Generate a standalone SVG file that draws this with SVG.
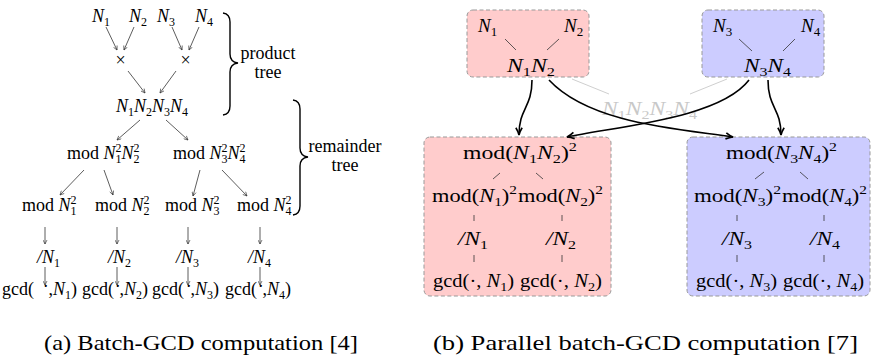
<svg xmlns="http://www.w3.org/2000/svg" width="871" height="360" viewBox="0 0 871 360" font-family="'Times New Roman', serif">
<style>
text{font-family:'Times New Roman',serif;fill:#000}
.L{font-size:18px}
.R{font-size:19px}
.i{font-style:italic}
.s{font-size:12px}
.rs{font-size:13px}
.ln{stroke:#333;stroke-width:0.8;fill:none}
.la{stroke:#333;stroke-width:0.8;fill:none;marker-end:url(#sa)}
.tk{stroke:#000;stroke-width:1.6;fill:none;marker-end:url(#ba)}
.pink{fill:#ffcccc;stroke:#999;stroke-width:1;stroke-dasharray:4 2.5}
.blue{fill:#ccccff;stroke:#999;stroke-width:1;stroke-dasharray:4 2.5}
.gr{stroke:#cfcfcf;stroke-width:1;fill:none}
.ghost{fill:#c8c8c8}
.brace{stroke:#000;stroke-width:1.4;fill:none}
.cap{font-size:21px}
</style>
<defs>
<marker id="sa" viewBox="0 0 10 10" refX="9" refY="5" markerWidth="5" markerHeight="5" markerUnits="userSpaceOnUse" orient="auto"><path d="M1,1 L9,5 L1,9" fill="none" stroke="#333" stroke-width="1.3"/></marker>
<marker id="ba" viewBox="0 0 10 10" refX="9" refY="5" markerWidth="9" markerHeight="9" markerUnits="userSpaceOnUse" orient="auto"><path d="M1,1.5 Q5,4 9,5 Q5,6 1,8.5" fill="none" stroke="#000" stroke-width="1.8"/></marker>
</defs>

<!-- (a) Batch-GCD -->
<g id="connectors-a">
<line class="la" x1="106" y1="27" x2="117" y2="50"/>
<line class="la" x1="134" y1="27" x2="124" y2="50"/>
<line class="la" x1="172" y1="27" x2="182" y2="50"/>
<line class="la" x1="199" y1="27" x2="189" y2="50"/>
<line class="la" x1="128" y1="71" x2="145" y2="93"/>
<line class="la" x1="176" y1="71" x2="160" y2="93"/>
<line class="la" x1="140" y1="120" x2="117" y2="140"/>
<line class="la" x1="166" y1="120" x2="188" y2="140"/>
<line class="la" x1="84" y1="170" x2="60" y2="195"/>
<line class="la" x1="104" y1="170" x2="113" y2="195"/>
<line class="la" x1="200" y1="170" x2="193" y2="196"/>
<line class="la" x1="222" y1="170" x2="247" y2="196"/>
<line class="la" x1="45" y1="227" x2="45" y2="244"/>
<line class="la" x1="117" y1="227" x2="117" y2="244"/>
<line class="la" x1="188" y1="227" x2="188" y2="244"/>
<line class="la" x1="260" y1="227" x2="260" y2="244"/>
<line class="la" x1="45" y1="267" x2="45" y2="285"/>
<line class="la" x1="117" y1="267" x2="117" y2="285"/>
<line class="la" x1="188" y1="267" x2="188" y2="285"/>
<line class="la" x1="260" y1="267" x2="260" y2="285"/>
</g>
<g id="n1"><text class="L" x="92" y="22"><tspan class="i">N</tspan><tspan class="s" dy="4">1</tspan></text></g>
<g id="n2"><text class="L" x="129" y="22"><tspan class="i">N</tspan><tspan class="s" dy="4">2</tspan></text></g>
<g id="n3"><text class="L" x="157" y="22"><tspan class="i">N</tspan><tspan class="s" dy="4">3</tspan></text></g>
<g id="n4"><text class="L" x="195" y="22"><tspan class="i">N</tspan><tspan class="s" dy="4">4</tspan></text></g>
<g id="x12"><text class="L" x="120.5" y="66" text-anchor="middle" font-size="15">×</text></g>
<g id="x34"><text class="L" x="185.5" y="66" text-anchor="middle" font-size="15">×</text></g>
<g id="prod"><text class="L" x="116" y="112"><tspan class="i">N</tspan><tspan class="s" dy="4">1</tspan><tspan class="i" dy="-4">N</tspan><tspan class="s" dy="4">2</tspan><tspan class="i" dy="-4">N</tspan><tspan class="s" dy="4">3</tspan><tspan class="i" dy="-4">N</tspan><tspan class="s" dy="4">4</tspan></text></g>
<g id="mod12"><text class="L" x="67" y="159">mod <tspan class="i">N</tspan><tspan class="s" dy="-7">2</tspan><tspan class="s" dx="-6" dy="11">1</tspan><tspan class="i" dy="-4">N</tspan><tspan class="s" dy="-7">2</tspan><tspan class="s" dx="-6" dy="11">2</tspan></text></g>
<g id="mod34"><text class="L" x="173" y="159">mod <tspan class="i">N</tspan><tspan class="s" dy="-7">2</tspan><tspan class="s" dx="-6" dy="11">3</tspan><tspan class="i" dy="-4">N</tspan><tspan class="s" dy="-7">2</tspan><tspan class="s" dx="-6" dy="11">4</tspan></text></g>
<g id="modn1"><text class="L" x="22" y="211">mod <tspan class="i">N</tspan><tspan class="s" dy="-7">2</tspan><tspan class="s" dx="-6" dy="11">1</tspan></text></g>
<g id="modn2"><text class="L" x="95" y="211">mod <tspan class="i">N</tspan><tspan class="s" dy="-7">2</tspan><tspan class="s" dx="-6" dy="11">2</tspan></text></g>
<g id="modn3"><text class="L" x="165" y="211">mod <tspan class="i">N</tspan><tspan class="s" dy="-7">2</tspan><tspan class="s" dx="-6" dy="11">3</tspan></text></g>
<g id="modn4"><text class="L" x="237" y="211">mod <tspan class="i">N</tspan><tspan class="s" dy="-7">2</tspan><tspan class="s" dx="-6" dy="11">4</tspan></text></g>
<g id="div1"><text class="L" x="37" y="263"><tspan class="i">/N</tspan><tspan class="s" dy="4">1</tspan></text></g>
<g id="div2"><text class="L" x="108" y="263"><tspan class="i">/N</tspan><tspan class="s" dy="4">2</tspan></text></g>
<g id="div3"><text class="L" x="176" y="263"><tspan class="i">/N</tspan><tspan class="s" dy="4">3</tspan></text></g>
<g id="div4"><text class="L" x="248" y="263"><tspan class="i">/N</tspan><tspan class="s" dy="4">4</tspan></text></g>
<g id="gcd1"><text class="L" x="2" y="295">gcd(<tspan x="42.8" dy="-3.5">·</tspan><tspan x="48.5" dy="3.5">,</tspan><tspan class="i">N</tspan><tspan class="s" dy="4">1</tspan><tspan dy="-4">)</tspan></text></g>
<g id="gcd2"><text class="L" x="82" y="295">gcd(<tspan x="114.8" dy="-3.5">·</tspan><tspan x="119.5" dy="3.5">,</tspan><tspan class="i">N</tspan><tspan class="s" dy="4">2</tspan><tspan dy="-4">)</tspan></text></g>
<g id="gcd3"><text class="L" x="152" y="295">gcd(<tspan x="185.8" dy="-3.5">·</tspan><tspan x="190.5" dy="3.5">,</tspan><tspan class="i">N</tspan><tspan class="s" dy="4">3</tspan><tspan dy="-4">)</tspan></text></g>
<g id="gcd4"><text class="L" x="225" y="295">gcd(<tspan x="257.8" dy="-3.5">·</tspan><tspan x="262.5" dy="3.5">,</tspan><tspan class="i">N</tspan><tspan class="s" dy="4">4</tspan><tspan dy="-4">)</tspan></text></g>
<g id="brace-product">
<path class="brace" d="M223,13 Q230,14 230,22 L230,54 Q230,62 238,63 Q230,64 230,72 L230,106 Q230,114 223,115"/>
<text class="L" x="268" y="59" text-anchor="middle">product</text>
<text class="L" x="268" y="78" text-anchor="middle">tree</text>
</g>
<g id="brace-remainder">
<path class="brace" d="M293,100 Q300,101 300,109 L300,148 Q300,156 308,157 Q300,158 300,166 L300,206 Q300,214 293,215"/>
<text class="L" x="345" y="152" text-anchor="middle">remainder</text>
<text class="L" x="345" y="171" text-anchor="middle">tree</text>
</g>

<!-- (b) Parallel batch-GCD -->
<g id="box-n12">
<rect class="pink" x="467" y="10" width="122" height="67" rx="6"/>
<text class="R" x="478" y="32"><tspan class="i">N</tspan><tspan class="rs" dy="4">1</tspan></text>
<text class="R" x="564" y="32"><tspan class="i">N</tspan><tspan class="rs" dy="4">2</tspan></text>
<line class="ln" x1="505" y1="39" x2="516" y2="50"/>
<line class="ln" x1="559" y1="39" x2="547" y2="50"/>
<text class="R" x="507" y="72" textLength="48" lengthAdjust="spacingAndGlyphs"><tspan class="i">N</tspan><tspan class="rs" dy="4">1</tspan><tspan class="i" dy="-4">N</tspan><tspan class="rs" dy="4">2</tspan></text>
</g>
<g id="box-n34">
<rect class="blue" x="702" y="10" width="122" height="67" rx="6"/>
<text class="R" x="713" y="32"><tspan class="i">N</tspan><tspan class="rs" dy="4">3</tspan></text>
<text class="R" x="801" y="32"><tspan class="i">N</tspan><tspan class="rs" dy="4">4</tspan></text>
<line class="ln" x1="739" y1="39" x2="752" y2="51"/>
<line class="ln" x1="795" y1="39" x2="783" y2="51"/>
<text class="R" x="744" y="72" textLength="47" lengthAdjust="spacingAndGlyphs"><tspan class="i">N</tspan><tspan class="rs" dy="4">3</tspan><tspan class="i" dy="-4">N</tspan><tspan class="rs" dy="4">4</tspan></text>
</g>
<g id="ghost-product">
<line class="gr" x1="572" y1="79" x2="609" y2="94"/>
<line class="gr" x1="727" y1="79" x2="690" y2="94"/>
<text class="R ghost" x="602" y="115" textLength="95" lengthAdjust="spacingAndGlyphs"><tspan class="i">N</tspan><tspan class="rs" dy="4">1</tspan><tspan class="i" dy="-4">N</tspan><tspan class="rs" dy="4">2</tspan><tspan class="i" dy="-4">N</tspan><tspan class="rs" dy="4">3</tspan><tspan class="i" dy="-4">N</tspan><tspan class="rs" dy="4">4</tspan></text>
</g>
<g id="box-r12">
<rect class="pink" x="424" y="137" width="187" height="159" rx="6"/>
<text class="R" x="463" y="159" textLength="114" lengthAdjust="spacingAndGlyphs">mod(<tspan class="i">N</tspan><tspan class="rs" dy="4">1</tspan><tspan class="i" dy="-4">N</tspan><tspan class="rs" dy="4">2</tspan><tspan dy="-4">)</tspan><tspan class="rs" dy="-8">2</tspan></text>
<line class="ln" x1="493" y1="179" x2="500" y2="173"/>
<line class="ln" x1="536" y1="173" x2="543" y2="179"/>
<text class="R" x="432" y="202" textLength="85" lengthAdjust="spacingAndGlyphs">mod(<tspan class="i">N</tspan><tspan class="rs" dy="4">1</tspan><tspan dy="-4">)</tspan><tspan class="rs" dy="-8">2</tspan></text>
<text class="R" x="518" y="202" textLength="85" lengthAdjust="spacingAndGlyphs">mod(<tspan class="i">N</tspan><tspan class="rs" dy="4">2</tspan><tspan dy="-4">)</tspan><tspan class="rs" dy="-8">2</tspan></text>
<line class="ln" x1="474" y1="215" x2="474" y2="221"/>
<line class="ln" x1="562" y1="215" x2="562" y2="221"/>
<text class="R" x="458" y="245" textLength="30" lengthAdjust="spacingAndGlyphs"><tspan class="i">/N</tspan><tspan class="rs" dy="4">1</tspan></text>
<text class="R" x="546" y="245" textLength="30" lengthAdjust="spacingAndGlyphs"><tspan class="i">/N</tspan><tspan class="rs" dy="4">2</tspan></text>
<line class="ln" x1="474" y1="255" x2="474" y2="262"/>
<line class="ln" x1="562" y1="255" x2="562" y2="262"/>
<text class="R" x="433" y="287" textLength="81" lengthAdjust="spacingAndGlyphs">gcd(·, <tspan class="i">N</tspan><tspan class="rs" dy="4">1</tspan><tspan dy="-4">)</tspan></text>
<text class="R" x="520" y="287" textLength="82" lengthAdjust="spacingAndGlyphs">gcd(·, <tspan class="i">N</tspan><tspan class="rs" dy="4">2</tspan><tspan dy="-4">)</tspan></text>
</g>
<g id="box-r34">
<rect class="blue" x="687" y="137" width="183" height="159" rx="6"/>
<text class="R" x="726" y="159" textLength="111" lengthAdjust="spacingAndGlyphs">mod(<tspan class="i">N</tspan><tspan class="rs" dy="4">3</tspan><tspan class="i" dy="-4">N</tspan><tspan class="rs" dy="4">4</tspan><tspan dy="-4">)</tspan><tspan class="rs" dy="-8">2</tspan></text>
<line class="ln" x1="755" y1="179" x2="764" y2="172"/>
<line class="ln" x1="800" y1="172" x2="808" y2="179"/>
<text class="R" x="694" y="202" textLength="87" lengthAdjust="spacingAndGlyphs">mod(<tspan class="i">N</tspan><tspan class="rs" dy="4">3</tspan><tspan dy="-4">)</tspan><tspan class="rs" dy="-8">2</tspan></text>
<text class="R" x="782" y="202" textLength="85" lengthAdjust="spacingAndGlyphs">mod(<tspan class="i">N</tspan><tspan class="rs" dy="4">4</tspan><tspan dy="-4">)</tspan><tspan class="rs" dy="-8">2</tspan></text>
<line class="ln" x1="737" y1="215" x2="737" y2="221"/>
<line class="ln" x1="824" y1="215" x2="824" y2="221"/>
<text class="R" x="722" y="245" textLength="30" lengthAdjust="spacingAndGlyphs"><tspan class="i">/N</tspan><tspan class="rs" dy="4">3</tspan></text>
<text class="R" x="810" y="245" textLength="30" lengthAdjust="spacingAndGlyphs"><tspan class="i">/N</tspan><tspan class="rs" dy="4">4</tspan></text>
<line class="ln" x1="737" y1="255" x2="737" y2="262"/>
<line class="ln" x1="824" y1="255" x2="824" y2="262"/>
<text class="R" x="696" y="287" textLength="81" lengthAdjust="spacingAndGlyphs">gcd(·, <tspan class="i">N</tspan><tspan class="rs" dy="4">3</tspan><tspan dy="-4">)</tspan></text>
<text class="R" x="783" y="287" textLength="81" lengthAdjust="spacingAndGlyphs">gcd(·, <tspan class="i">N</tspan><tspan class="rs" dy="4">4</tspan><tspan dy="-4">)</tspan></text>
</g>
<g id="connectors-b">
<path class="tk" d="M532,80 C532,108 519,108 519,135"/>
<path class="tk" d="M549,80 C590,124 680,129 733,137"/>
<path class="tk" d="M749,80 C720,118 620,126 567,137"/>
<path class="tk" d="M768,80 C768,108 781,108 781,135"/>
</g>

<g id="captions">
<text class="cap" x="44" y="350" textLength="314" lengthAdjust="spacingAndGlyphs">(a) Batch-GCD computation [4]</text>
<text class="cap" x="433" y="350" textLength="425" lengthAdjust="spacingAndGlyphs">(b) Parallel batch-GCD computation [7]</text>
</g>
</svg>
